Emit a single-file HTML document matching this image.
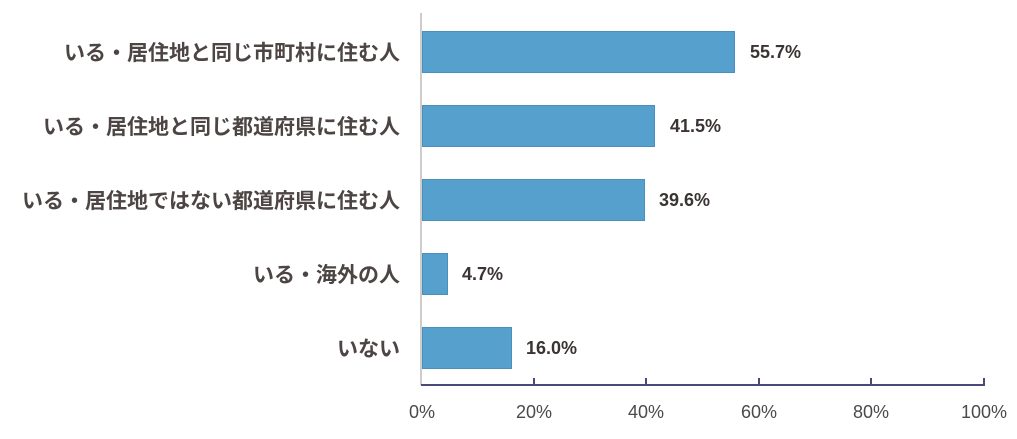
<!DOCTYPE html>
<html><head><meta charset="utf-8"><style>
body{margin:0;width:1017px;height:439px;background:#fff;position:relative;overflow:hidden;font-family:"Liberation Sans","Noto Sans CJK JP",sans-serif}
.l{position:absolute;right:617px;font-size:21px;font-weight:bold;color:#4d4543;white-space:nowrap;line-height:24px;font-family:"Noto Sans CJK JP",sans-serif}
.b{position:absolute;left:422px;background:#55a0cd;border:1px solid #4a8fbd;box-sizing:border-box;height:42px}
.v{position:absolute;font-size:18px;font-weight:bold;color:#3a3433;line-height:20px}
.t{position:absolute;top:402px;font-size:18px;color:#4a4a4a;transform:translateX(-50%)}
</style></head><body>
<div style="position:absolute;left:420px;top:13px;width:2px;height:372px;background:#d0ccca"></div>
<div style="position:absolute;left:421px;top:384px;width:564px;height:2px;background:#4a4a7a"></div>
<svg style="position:absolute;left:0;top:0" width="1017" height="439">
<g stroke="#4a4a7a" stroke-width="2">
<line x1="534" y1="378" x2="534" y2="385"/><line x1="646" y1="378" x2="646" y2="385"/><line x1="759" y1="378" x2="759" y2="385"/><line x1="871" y1="378" x2="871" y2="385"/><line x1="984" y1="378" x2="984" y2="385"/>
</g></svg>
<div class="l" style="top:40px">いる・居住地と同じ市町村に住む人</div>
<div class="l" style="top:114px">いる・居住地と同じ都道府県に住む人</div>
<div class="l" style="top:188px">いる・居住地ではない都道府県に住む人</div>
<div class="l" style="top:262px">いる・海外の人</div>
<div class="l" style="top:336px">いない</div>
<div class="b" style="top:31px;width:313px"></div>
<div class="b" style="top:105px;width:233px"></div>
<div class="b" style="top:179px;width:223px"></div>
<div class="b" style="top:253px;width:26px"></div>
<div class="b" style="top:327px;width:90px"></div>
<div class="v" style="left:750px;top:42px">55.7%</div>
<div class="v" style="left:670px;top:116px">41.5%</div>
<div class="v" style="left:659px;top:190px">39.6%</div>
<div class="v" style="left:462px;top:264px">4.7%</div>
<div class="v" style="left:526px;top:338px">16.0%</div>
<div class="t" style="left:422px">0%</div>
<div class="t" style="left:534px">20%</div>
<div class="t" style="left:646px">40%</div>
<div class="t" style="left:759px">60%</div>
<div class="t" style="left:871px">80%</div>
<div class="t" style="left:984px">100%</div>
</body></html>
